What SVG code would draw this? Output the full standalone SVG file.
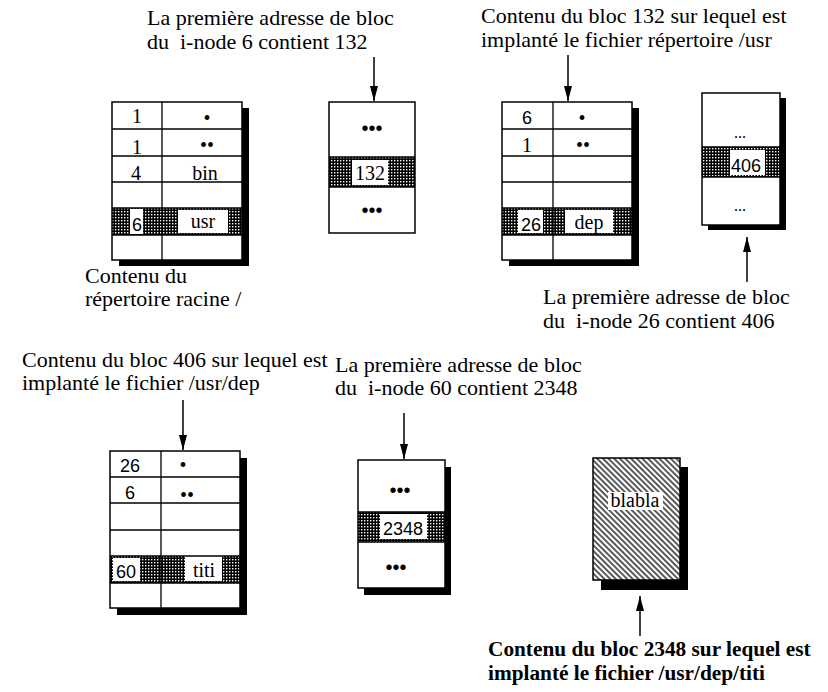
<svg xmlns="http://www.w3.org/2000/svg" width="828" height="692" viewBox="0 0 828 692">
<defs>
<pattern id="dots" width="3" height="3" patternUnits="userSpaceOnUse">
<rect width="3" height="3" fill="#000"/>
<rect x="1" y="1" width="1.4" height="1.4" fill="#fff"/>
</pattern>
<pattern id="hatch" width="4" height="4" patternUnits="userSpaceOnUse" patternTransform="rotate(45)">
<rect width="4" height="4" fill="#fff"/>
<line x1="0" y1="2" x2="4" y2="2" stroke="#000" stroke-width="1.3"/>
</pattern>
<marker id="ah" markerUnits="userSpaceOnUse" markerWidth="16" markerHeight="10" refX="15" refY="4.5" orient="auto">
<path d="M0,0.5 L15,4.5 L0,8.5 Z" fill="#000"/>
</marker>
</defs>
<style>
.cap{font-family:"Liberation Serif",serif;font-size:22px;fill:#000}
.bcap{font-family:"Liberation Serif",serif;font-size:21.3px;font-weight:bold;fill:#000}
.cell{font-family:"Liberation Serif",serif;font-size:20px;fill:#000;text-anchor:middle}
.num{font-family:"Liberation Sans",sans-serif;font-size:18px;fill:#000;text-anchor:middle}
.dot{font-family:"Liberation Sans",sans-serif;font-size:20px;fill:#000;text-anchor:middle}
.bg{fill:#fff}
.out{fill:none;stroke:#000;stroke-width:1.5}
.ln{stroke:#000;stroke-width:1.3;fill:none}
.sh{fill:#000}
.pat{fill:url(#dots)}
.wh{fill:#fff}
.arr{stroke:#000;stroke-width:1.5;fill:none;marker-end:url(#ah)}
</style>
<rect width="828" height="692" fill="#fff"/>

<g id="caption-inode6">
<text class="cap" x="147" y="25">La première adresse de bloc</text>
<text class="cap" x="147" y="49">du&#160; i-node 6 contient 132</text>
</g>
<g id="caption-bloc132">
<text class="cap" x="481" y="23">Contenu du bloc 132 sur lequel est</text>
<text class="cap" x="481" y="47">implanté le fichier répertoire /usr</text>
</g>
<g id="caption-racine">
<text class="cap" x="85" y="283">Contenu du</text>
<text class="cap" x="85" y="306">répertoire racine /</text>
</g>
<g id="caption-inode26">
<text class="cap" x="543" y="304">La première adresse de bloc</text>
<text class="cap" x="543" y="328">du&#160; i-node 26 contient 406</text>
</g>
<g id="caption-bloc406">
<text class="cap" x="22" y="367">Contenu du bloc 406 sur lequel est</text>
<text class="cap" x="22" y="390">implanté le fichier /usr/dep</text>
</g>
<g id="caption-inode60">
<text class="cap" x="335" y="372">La première adresse de bloc</text>
<text class="cap" x="335" y="395">du&#160; i-node 60 contient 2348</text>
</g>
<g id="caption-bloc2348">
<text class="bcap" x="488" y="656">Contenu du bloc 2348 sur lequel est</text>
<text class="bcap" x="488" y="680">implanté le fichier /usr/dep/titi</text>
</g>

<g id="table-racine">
<rect class="sh" x="119" y="108" width="130" height="158"/>
<rect class="bg" x="112" y="102" width="130" height="158"/>
<rect class="pat" x="112" y="208" width="130" height="27"/>
<rect class="wh" x="130" y="209" width="13" height="25"/>
<rect class="wh" x="178" y="210" width="50" height="23"/>
<path class="ln" d="M162,102 V260 M112,129 H242 M112,156 H242 M112,182 H242 M112,208 H242 M112,235 H242"/>
<rect class="out" x="112" y="102" width="130" height="158"/>
<text class="cell" x="137" y="123">1</text>
<text class="cell" x="207" y="125">•</text>
<text class="cell" x="137" y="154">1</text>
<text class="cell" x="207" y="152">••</text>
<text class="cell" x="136" y="180">4</text>
<text class="cell" x="205" y="180">bin</text>
<text class="num" x="137" y="231">6</text>
<text class="cell" x="203" y="228">usr</text>
</g>

<g id="block-132">
<rect class="bg" x="329" y="102" width="86" height="131"/>
<rect class="pat" x="329" y="157" width="86" height="30"/>
<rect class="wh" x="352" y="160" width="36" height="25"/>
<path class="ln" d="M329,157 H415 M329,187 H415"/>
<rect class="out" x="329" y="102" width="86" height="131"/>
<text class="dot" x="372" y="135">•••</text>
<text class="cell" x="370" y="180">132</text>
<text class="dot" x="372" y="217">•••</text>
</g>

<g id="table-usr">
<rect class="sh" x="509" y="108" width="130" height="158"/>
<rect class="bg" x="502" y="102" width="130" height="158"/>
<rect class="pat" x="502" y="208" width="130" height="27"/>
<rect class="wh" x="518" y="210" width="25" height="23"/>
<rect class="wh" x="565" y="210" width="48" height="23"/>
<path class="ln" d="M553,102 V260 M502,129 H632 M502,156 H632 M502,182 H632 M502,208 H632 M502,235 H632"/>
<rect class="out" x="502" y="102" width="130" height="158"/>
<text class="num" x="527" y="124">6</text>
<text class="cell" x="582" y="125">•</text>
<text class="cell" x="527" y="152">1</text>
<text class="cell" x="583" y="152">••</text>
<text class="num" x="531" y="231">26</text>
<text class="cell" x="589" y="229">dep</text>
</g>

<g id="block-406">
<rect class="sh" x="708" y="98" width="78" height="132"/>
<rect class="bg" x="702" y="93" width="78" height="132"/>
<rect class="pat" x="702" y="147" width="78" height="30"/>
<rect class="wh" x="730" y="150" width="35" height="25"/>
<path class="ln" d="M702,147 H780 M702,177 H780"/>
<rect class="out" x="702" y="93" width="78" height="132"/>
<text class="cell" x="740" y="138" style="font-size:16px">...</text>
<text class="num" x="746" y="172">406</text>
<text class="cell" x="740" y="211" style="font-size:16px">...</text>
</g>

<g id="table-dep">
<rect class="sh" x="117" y="458" width="130" height="157"/>
<rect class="bg" x="110" y="451" width="130" height="157"/>
<rect class="pat" x="110" y="556" width="130" height="27"/>
<rect class="wh" x="113" y="558" width="27" height="23"/>
<rect class="wh" x="185" y="556" width="37" height="25"/>
<path class="ln" d="M161,451 V608 M110,477 H240 M110,503 H240 M110,530 H240 M110,556 H240 M110,583 H240"/>
<rect class="out" x="110" y="451" width="130" height="157"/>
<text class="num" x="130" y="472">26</text>
<text class="cell" x="183" y="472">•</text>
<text class="num" x="130" y="499">6</text>
<text class="cell" x="187" y="502">••</text>
<text class="num" x="126" y="578">60</text>
<text class="cell" x="204" y="577">titi</text>
</g>

<g id="block-2348">
<rect class="sh" x="364" y="467" width="87" height="128"/>
<rect class="bg" x="358" y="460" width="87" height="128"/>
<rect class="pat" x="358" y="512" width="87" height="30"/>
<rect class="wh" x="380" y="514" width="47" height="25"/>
<path class="ln" d="M358,512 H445 M358,542 H445"/>
<rect class="out" x="358" y="460" width="87" height="128"/>
<text class="dot" x="400" y="497">•••</text>
<text class="num" x="403" y="535">2348</text>
<text class="dot" x="396" y="574">•••</text>
</g>

<g id="block-titi">
<rect class="sh" x="601" y="467" width="87" height="123"/>
<rect x="593" y="458" width="87" height="122" fill="url(#hatch)"/>
<rect class="out" x="593" y="458" width="87" height="122"/>
<rect class="wh" x="608" y="492" width="55" height="18"/>
<text class="cell" x="635" y="507">blabla</text>
</g>

<g id="connectors">
<line class="arr" x1="374" y1="57" x2="374" y2="101"/>
<line class="arr" x1="568" y1="55" x2="568" y2="101"/>
<line class="arr" x1="747" y1="282" x2="747" y2="237"/>
<line class="arr" x1="183" y1="400" x2="183" y2="450"/>
<line class="arr" x1="404" y1="413" x2="404" y2="459"/>
<line class="arr" x1="640" y1="636" x2="640" y2="596"/>
</g>
</svg>
